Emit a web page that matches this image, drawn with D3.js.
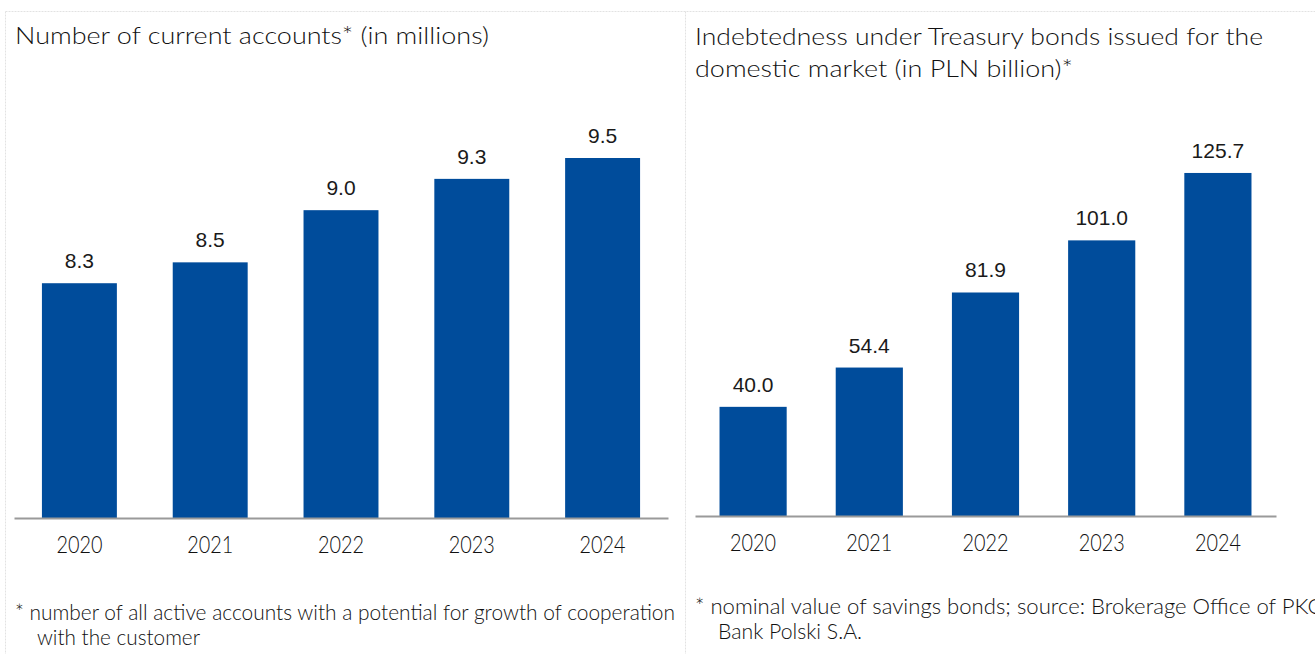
<!DOCTYPE html>
<html>
<head>
<meta charset="utf-8">
<script src="https://cdn.jsdelivr.net/npm/d3@7"></script>
<style>
  html, body { margin: 0; padding: 0; background: #fff; }
  svg { display: block; }
  .cond { font-family: Lato, 'Liberation Sans', sans-serif; font-weight: 300; fill: #111; }
  .val { font-family: 'Liberation Sans', Arial, sans-serif; fill: #1a1a1a; }
</style>
</head>
<body>
<svg id="chart" width="1315" height="654"></svg>
<script>
// Years shown on both charts
const years = ["2020", "2021", "2022", "2023", "2024"];
// Number of current accounts (millions)
const accounts = [8.3, 8.5, 9.0, 9.3, 9.5];
const accountLabels = ["8.3", "8.5", "9.0", "9.3", "9.5"];
// Treasury bonds indebtedness (PLN billion)
const bonds = [40.0, 54.4, 81.9, 101.0, 125.7];
const bondLabels = ["40.0", "54.4", "81.9", "101.0", "125.7"];

const svg = d3.select("#chart");
const barColor = "#004c9b";

// panel frames (faint dashed)
const frame = svg.append("g").attr("stroke", "#e2e2e2").attr("stroke-width", 1)
  .attr("stroke-dasharray", "2,1").attr("fill", "none");
frame.append("line").attr("x1", 5.5).attr("x2", 1315).attr("y1", 11.5).attr("y2", 11.5);
frame.append("line").attr("x1", 5.5).attr("x2", 5.5).attr("y1", 11.5).attr("y2", 654);
frame.append("line").attr("x1", 685.5).attr("x2", 685.5).attr("y1", 11.5).attr("y2", 654);

function fitText(sel, width) {
  sel.attr("textLength", width).attr("lengthAdjust", "spacingAndGlyphs");
}

function panel(opts) {
  const g = svg.append("g");
  const x = d3.scaleBand().domain(years).range(opts.xRange)
    .paddingInner(opts.pad).paddingOuter(opts.pad / 2);
  const y = d3.scaleLinear().domain(opts.yDomain).range(opts.yRange);

  g.selectAll("rect.bar").data(opts.values).join("rect")
    .attr("class", "bar")
    .attr("x", (d, i) => x(years[i]))
    .attr("width", x.bandwidth())
    .attr("y", d => y(d))
    .attr("height", d => y(opts.yDomain[0]) - y(d))
    .attr("fill", barColor);

  g.selectAll("text.val").data(opts.values).join("text")
    .attr("class", "val")
    .attr("x", (d, i) => x(years[i]) + x.bandwidth() / 2)
    .attr("y", d => y(d) - 15)
    .attr("text-anchor", "middle")
    .attr("font-size", 21)
    .text((d, i) => opts.labels[i]);

  // category axis
  const axis = g.append("g")
    .attr("transform", `translate(0,${y(opts.yDomain[0])})`)
    .call(d3.axisBottom(x).tickSize(0).tickPadding(19));
  axis.select(".domain").attr("stroke", "#9a9a9a").attr("stroke-width", 2);
  axis.selectAll(".tick text")
    .attr("class", "cond")
    .attr("font-size", 23)
    .attr("dy", "0.71em")
    .each(function () { fitText(d3.select(this), 46); });

  // title lines
  opts.title.forEach((t, i) => {
    const tx = g.append("text").attr("class", "cond")
      .attr("x", opts.titleX).attr("y", opts.titleY + i * 32)
      .attr("font-size", 24).text(t[0]);
    fitText(tx, t[1]);
  });

  // footnote lines
  opts.note.forEach((t, i) => {
    const tx = g.append("text").attr("class", "cond")
      .attr("x", t[2]).attr("y", opts.noteY + i * 25)
      .attr("font-size", 21).text(t[0]);
    if (t[1]) fitText(tx, t[1]);
  });
}

panel({
  xRange: [14, 668], pad: 0.427,
  yDomain: [6.05, 9.5], yRange: [518, 158],
  values: accounts, labels: accountLabels,
  title: [["Number of current accounts* (in millions)", 474]],
  titleX: 15, titleY: 44,
  note: [["* number of all active accounts with a potential for growth of cooperation", 660, 15],
         ["with the customer", 163, 37]],
  noteY: 620
});

panel({
  xRange: [695, 1276], pad: 0.422,
  yDomain: [0, 140], yRange: [516, 516 - 140 * 2.729],
  values: bonds, labels: bondLabels,
  title: [["Indebtedness under Treasury bonds issued for the", 568],
          ["domestic market (in PLN billion)*", 378]],
  titleX: 695, titleY: 45,
  note: [["* nominal value of savings bonds; source: Brokerage Office of PKO", 630, 695],
         ["Bank Polski S.A.", 144, 718]],
  noteY: 614
});
</script>
</body>
</html>
